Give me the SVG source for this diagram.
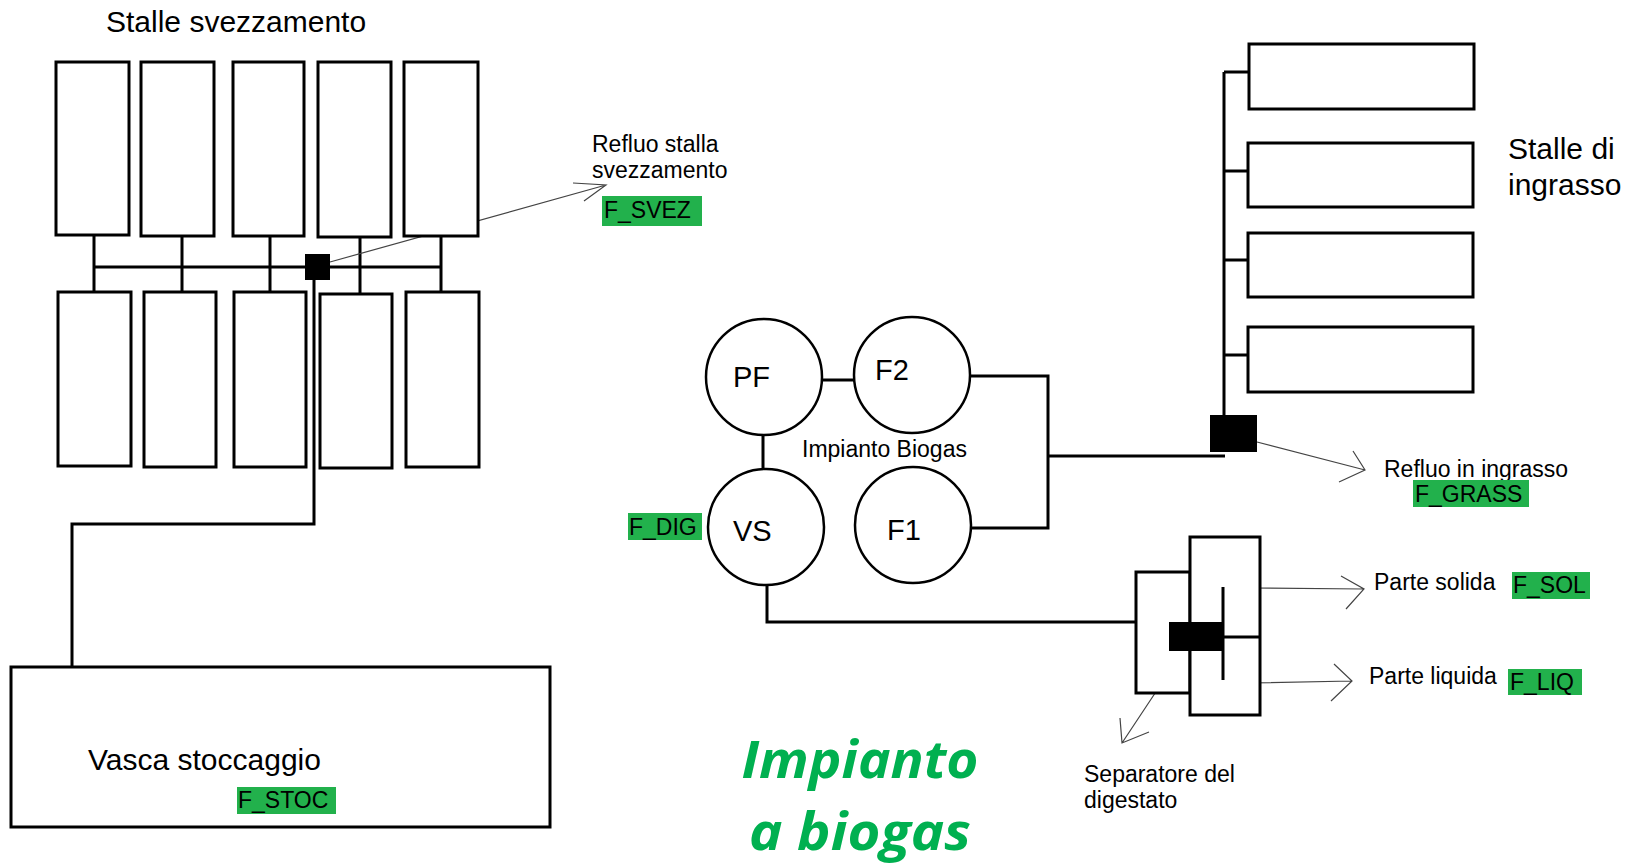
<svg xmlns="http://www.w3.org/2000/svg" width="1636" height="867" viewBox="0 0 1636 867">
<style>
.box{fill:#fff;stroke:#000;stroke-width:3}
.circ{fill:#fff;stroke:#000;stroke-width:2.5}
.ln{fill:none;stroke:#000;stroke-width:3}
.thin{fill:none;stroke:#444;stroke-width:1.2}
.t{font-family:"Liberation Sans",Arial,sans-serif;fill:#000}
.hl{fill:#22b14c}
.big{font-family:"Open Sans","Noto Sans",sans-serif;font-weight:bold;font-style:italic;fill:#00b050;font-size:52px}
</style>
<rect width="1636" height="867" fill="#fff"/>

<g id="connectors">
  <!-- svezzamento network -->
  <path class="ln" d="M94 236V292M182 236V292M270 236V292M360 236V294M441 236V292M94 267H441"/>
  <path class="ln" d="M314 280V524H72V667"/>
  <path class="thin" d="M330 262L606 185M573 183L606 185L584 201"/>
  <!-- biogas plant -->
  <path class="ln" d="M822 380H854M763 436V468M970 376H1048V528H971M1048 456H1225"/>
  <path class="ln" d="M1224 72V415M1224 72H1249M1224 171H1248M1224 260H1248M1224 355H1248"/>
  <path class="thin" d="M1257 442L1365 470M1353 451L1365 470L1339 482"/>
  <path class="ln" d="M767 585V622H1136"/>
  <path class="thin" d="M1248 588L1364 589M1341 576L1364 589L1346 609"/>
  <path class="thin" d="M1248 683L1352 681M1334 664L1352 681L1331 701"/>
  <path class="thin" d="M1183 651L1122 743M1120 718L1122 743L1149 732"/>
</g>

<g id="title-svezzamento"><text class="t" x="106" y="32" font-size="30">Stalle svezzamento</text></g>

<g id="stalle-svezzamento-top">
  <rect class="box" x="56" y="62" width="73" height="173"/>
  <rect class="box" x="141" y="62" width="73" height="174"/>
  <rect class="box" x="233" y="62" width="71" height="174"/>
  <rect class="box" x="318" y="62" width="73" height="175"/>
  <rect class="box" x="404" y="62" width="74" height="174"/>
</g>
<g id="stalle-svezzamento-bottom">
  <rect class="box" x="58" y="292" width="73" height="174"/>
  <rect class="box" x="144" y="292" width="72" height="175"/>
  <rect class="box" x="234" y="292" width="72" height="175"/>
  <rect class="box" x="320" y="294" width="72" height="174"/>
  <rect class="box" x="406" y="292" width="73" height="175"/>
</g>
<g id="nodo-svezzamento"><rect x="305" y="254" width="25" height="26" fill="#000"/></g>

<g id="label-refluo-svez">
  <text class="t" x="592" y="152" font-size="23">Refluo stalla</text>
  <text class="t" x="592" y="178" font-size="23">svezzamento</text>
  <rect class="hl" x="602" y="196" width="100" height="30"/>
  <text class="t" x="604" y="218" font-size="23">F_SVEZ</text>
</g>

<g id="vasca">
  <rect class="box" x="11" y="667" width="539" height="160"/>
  <text class="t" x="88" y="770" font-size="30">Vasca stoccaggio</text>
  <rect class="hl" x="237" y="787" width="99" height="27"/>
  <text class="t" x="238" y="808" font-size="23">F_STOC</text>
</g>

<g id="PF"><circle class="circ" cx="764" cy="377" r="58"/><text class="t" x="733" y="387" font-size="29">PF</text></g>
<g id="F2"><circle class="circ" cx="912" cy="375" r="58"/><text class="t" x="875" y="380" font-size="29">F2</text></g>
<g id="VS"><circle class="circ" cx="766" cy="527" r="58"/><text class="t" x="733" y="541" font-size="29">VS</text></g>
<g id="F1"><circle class="circ" cx="913" cy="525" r="58"/><text class="t" x="887" y="540" font-size="29">F1</text></g>
<g id="label-biogas"><text class="t" x="802" y="457" font-size="23">Impianto Biogas</text></g>
<g id="label-dig">
  <rect class="hl" x="628" y="513" width="74" height="27"/>
  <text class="t" x="629" y="535" font-size="23">F_DIG</text>
</g>

<g id="stalle-ingrasso">
  <rect class="box" x="1249" y="44" width="225" height="65"/>
  <rect class="box" x="1248" y="143" width="225" height="64"/>
  <rect class="box" x="1248" y="233" width="225" height="64"/>
  <rect class="box" x="1248" y="327" width="225" height="65"/>
  <text class="t" x="1508" y="159" font-size="30">Stalle di</text>
  <text class="t" x="1508" y="195" font-size="30">ingrasso</text>
</g>
<g id="nodo-ingrasso"><rect x="1210" y="415" width="47" height="37" fill="#000"/></g>
<g id="label-ingrasso">
  <text class="t" x="1384" y="477" font-size="23">Refluo in ingrasso</text>
  <rect class="hl" x="1413" y="480" width="116" height="27"/>
  <text class="t" x="1415" y="502" font-size="23">F_GRASS</text>
</g>

<g id="separatore">
  <rect class="box" x="1136" y="572" width="54" height="121"/>
  <rect class="box" x="1190" y="537" width="70" height="178"/>
  <rect x="1169" y="622" width="55" height="29" fill="#000"/>
  <path class="ln" d="M1223 587V680M1224 637H1260"/>
  <text class="t" x="1084" y="782" font-size="23">Separatore del</text>
  <text class="t" x="1084" y="808" font-size="23">digestato</text>
</g>
<g id="label-solida">
  <text class="t" x="1374" y="590" font-size="23">Parte solida</text>
  <rect class="hl" x="1512" y="572" width="78" height="27"/>
  <text class="t" x="1513" y="593" font-size="23">F_SOL</text>
</g>
<g id="label-liquida">
  <text class="t" x="1369" y="684" font-size="23">Parte liquida</text>
  <rect class="hl" x="1508" y="669" width="74" height="26"/>
  <text class="t" x="1510" y="690" font-size="23">F_LIQ</text>
</g>

<g id="titolo-impianto">
  <text class="big" x="860" y="778" text-anchor="middle" textLength="237" lengthAdjust="spacingAndGlyphs">Impianto</text>
  <text class="big" x="860" y="850" text-anchor="middle" textLength="222" lengthAdjust="spacingAndGlyphs">a biogas</text>
</g>
</svg>
